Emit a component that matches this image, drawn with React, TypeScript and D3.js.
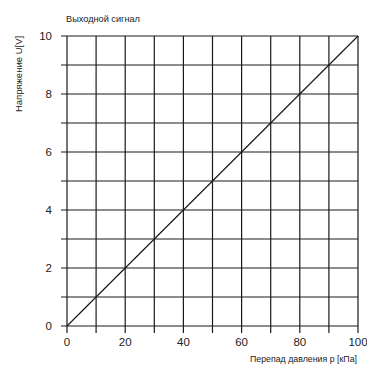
import React, { useEffect, useRef } from 'react';
import * as d3 from 'd3';

// данные графика
const xTicks = [0, 10, 20, 30, 40, 50, 60, 70, 80, 90, 100];
const yTicks = [0, 1, 2, 3, 4, 5, 6, 7, 8, 9, 10];
const xLabels = [0, 20, 40, 60, 80, 100];
const yLabels = [0, 2, 4, 6, 8, 10];
const pressure = [0, 100];
const voltage = [0, 10];

const title = 'Выходной сигнал';
const yTitle = 'Напряжение U[V]';
const xTitle = 'Перепад давления p [кПа]';

const App: React.FC = () => {
  const ref = useRef<SVGSVGElement>(null);

  useEffect(() => {
    const svg = d3.select(ref.current);
    svg.selectAll('*').remove();

    const left = 67, right = 358, top = 36, bottom = 326;
    const x = d3.scaleLinear().domain([0, 100]).range([left, right]);
    const y = d3.scaleLinear().domain([0, 10]).range([bottom, top]);
    const stroke = '#1a1a1a';
    const font = 'Liberation Sans, Arial, sans-serif';

    // сетка
    svg.append('g').selectAll('line').data(xTicks).enter().append('line')
      .attr('x1', d => x(d)).attr('x2', d => x(d))
      .attr('y1', top).attr('y2', bottom + 7)
      .attr('stroke', stroke).attr('stroke-width', 1.2);

    svg.append('g').selectAll('line').data(yTicks).enter().append('line')
      .attr('x1', left - 6).attr('x2', right)
      .attr('y1', d => y(d)).attr('y2', d => y(d))
      .attr('stroke', stroke).attr('stroke-width', 1.2);

    // линия
    const line = d3.line<number>().x((d, i) => x(pressure[i])).y(d => y(d));
    svg.append('path').datum(voltage)
      .attr('d', line)
      .attr('fill', 'none').attr('stroke', stroke).attr('stroke-width', 1.2);

    // подписи
    svg.append('g').selectAll('text').data(xLabels).enter().append('text')
      .attr('x', d => x(d)).attr('y', 346)
      .attr('text-anchor', 'middle')
      .attr('font-family', font).attr('font-size', 11.5).attr('fill', '#222')
      .text(d => d);

    svg.append('g').selectAll('text').data(yLabels).enter().append('text')
      .attr('x', 52).attr('y', d => y(d) + 4)
      .attr('text-anchor', 'end')
      .attr('font-family', font).attr('font-size', 11.5).attr('fill', '#222')
      .text(d => d);

    svg.append('text')
      .attr('x', 66).attr('y', 22)
      .attr('font-family', font).attr('font-size', 9.2).attr('fill', '#222')
      .text(title);

    svg.append('text')
      .attr('transform', `translate(22,74) rotate(-90)`)
      .attr('text-anchor', 'middle')
      .attr('font-family', font).attr('font-size', 9.5).attr('fill', '#222')
      .text(yTitle);

    svg.append('text')
      .attr('x', 357).attr('y', 362)
      .attr('text-anchor', 'end')
      .attr('font-family', font).attr('font-size', 8.8).attr('fill', '#222')
      .text(xTitle);
  }, []);

  return (
    <svg ref={ref} width={367} height={365}
      style={{ position: 'absolute', left: 0, top: 0, background: '#fff' }} />
  );
};

export default App;
